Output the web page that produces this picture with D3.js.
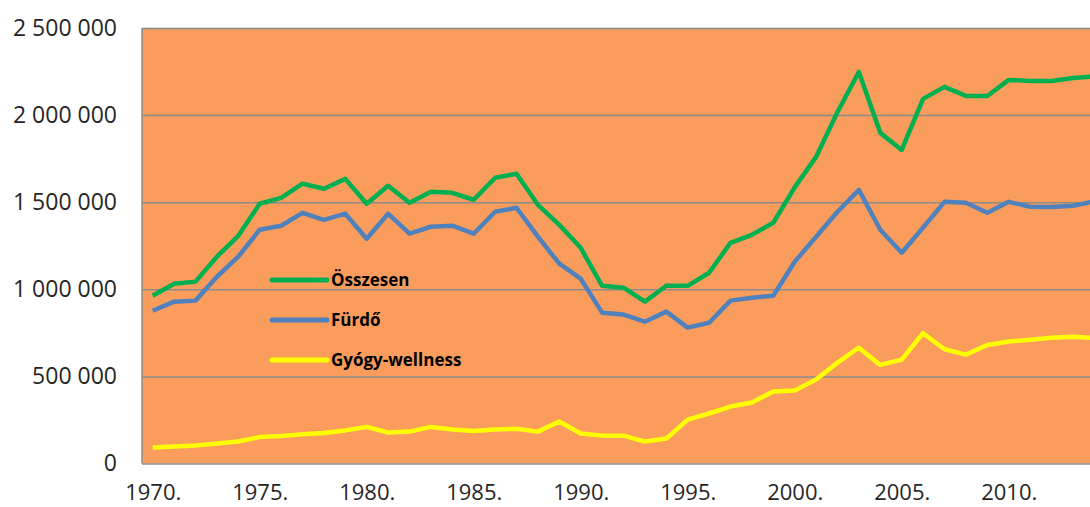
<!DOCTYPE html>
<html>
<head>
<meta charset="utf-8">
<script src="https://cdn.jsdelivr.net/npm/d3@7"></script>
<style>
  body { margin:0; background:#fff; }
  svg { display:block; }
  .axis text { font-family:"Open Sans", sans-serif; font-size:23px; fill:#262626; }
  .axis.x text { font-size:22px; }
  .axis .domain { display:none; }
</style>
</head>
<body>
<script>
var years = d3.range(1970, 2015).map(String);
var tickYears = ['1970','1975','1980','1985','1990','1995','2000','2005','2010'];
var yTicks = [0, 500000, 1000000, 1500000, 2000000, 2500000];

var seriesNames = ['Összesen', 'Fürdő', 'Gyógy-wellness'];
var seriesColors = ['#00b050', '#4f81bd', '#ffff00'];

var osszesen = [963000,1032000,1044000,1187000,1307000,1491000,1525000,1606000,1577000,1634000,
                1491000,1594000,1497000,1560000,1554000,1514000,1640000,1663000,1485000,1370000,
                1238000,1020000,1009000,929000,1020000,1020000,1095000,1267000,1313000,1382000,
                1585000,1760000,2018000,2248000,1898000,1800000,2093000,2162000,2110000,2110000,
                2202000,2196000,2196000,2213000,2222000];
var furdo = [877000,929000,935000,1072000,1187000,1342000,1365000,1439000,1399000,1434000,
             1290000,1434000,1319000,1359000,1365000,1319000,1445000,1468000,1302000,1147000,
             1061000,866000,855000,814000,872000,780000,808000,935000,952000,963000,
             1158000,1302000,1445000,1571000,1342000,1210000,1355000,1502000,1497000,1439000,
             1502000,1474000,1472000,1480000,1505000];
var gyogy = [92000,97000,103000,115000,126000,152000,158000,168000,175000,190000,
             210000,178000,183000,210000,195000,186000,195000,200000,183000,241000,
             172000,160000,160000,126000,143000,252000,287000,327000,350000,413000,
             419000,482000,579000,665000,566000,596000,748000,656000,625000,680000,
             700000,711000,722000,728000,720000];

var width = 1090, height = 507;
var margin = {left:142, top:28, bottom:44};
var plotW = 45 * 21.4;
var plotBottom = height - margin.bottom + 0.5;

var svg = d3.select("body").append("svg").attr("width", width).attr("height", height);

var x = d3.scalePoint().domain(years).range([margin.left, margin.left + plotW]).padding(0.5);
var y = d3.scaleLinear().domain([0, 2500000]).range([plotBottom, margin.top]);

var loc = d3.formatLocale({decimal:",", thousands:" ", grouping:[3], currency:["",""]});
var fmt = loc.format(",d");

// plot background
svg.append("rect")
  .attr("x", margin.left).attr("y", margin.top)
  .attr("width", plotW).attr("height", plotBottom - margin.top)
  .attr("fill", "#fa9d5c");

// y axis + gridlines
var yAxis = d3.axisLeft(y).tickValues(yTicks).tickFormat(fmt)
  .tickSize(-plotW).tickPadding(25);
var gy = svg.append("g").attr("class", "axis y")
  .attr("transform", "translate(" + margin.left + ",0)")
  .call(yAxis);
gy.selectAll(".tick line").attr("stroke", "#8c8c8c").attr("stroke-width", 1.5);

// left border
svg.append("line")
  .attr("x1", margin.left).attr("x2", margin.left)
  .attr("y1", margin.top).attr("y2", plotBottom)
  .attr("stroke", "#8c8c8c").attr("stroke-width", 1.5);

// x axis labels (the source image crops them at the bottom; kept just inside here)
var xAxis = d3.axisBottom(x).tickValues(tickYears).tickFormat(function(d){ return d + "."; })
  .tickSize(0).tickPadding(21);
var gx = svg.append("g").attr("class", "axis x")
  .attr("transform", "translate(0," + plotBottom + ")")
  .call(xAxis);

// lines
var line = d3.line()
  .x(function(d, i){ return x(years[i]); })
  .y(function(d){ return y(d); });

[osszesen, furdo, gyogy].forEach(function(s, i){
  svg.append("path")
    .attr("d", line(s))
    .attr("fill", "none")
    .attr("stroke", seriesColors[i])
    .attr("stroke-width", 4.5)
    .attr("stroke-linejoin", "round");
});

// legend
var legend = svg.append("g").attr("transform", "translate(272,280)");
seriesNames.forEach(function(name, i){
  var row = legend.append("g").attr("transform", "translate(0," + (i * 40) + ")");
  row.append("line").attr("x1", 0).attr("x2", 55).attr("y1", 0).attr("y2", 0)
    .attr("stroke", seriesColors[i]).attr("stroke-width", 5).attr("stroke-linecap", "round");
  row.append("text").attr("x", 59).attr("y", 0).attr("dy", "0.35em")
    .attr("font-family", "'Open Sans', sans-serif").attr("font-size", 17)
    .attr("font-weight", "bold").attr("fill", "#000")
    .text(name);
});
</script>
</body>
</html>
